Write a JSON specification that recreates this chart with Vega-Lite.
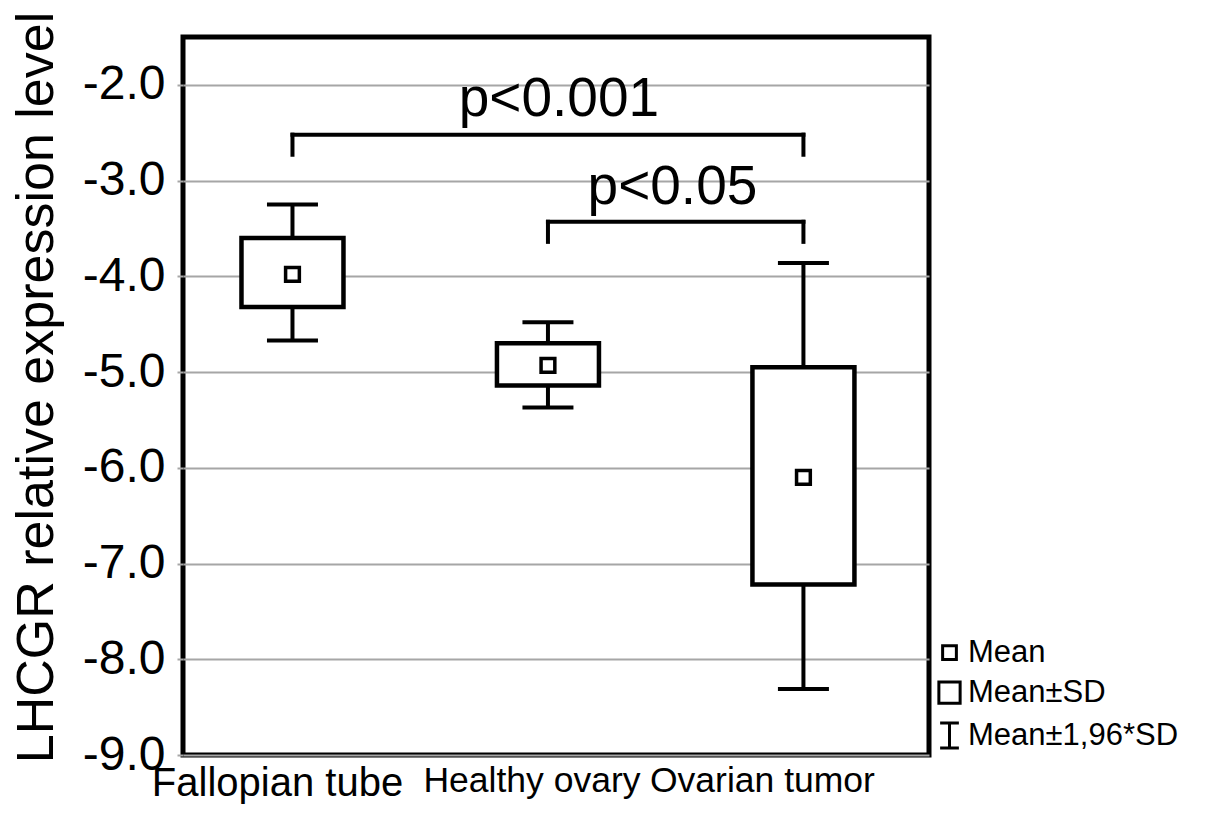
{
  "$schema": "https://vega.github.io/schema/vega-lite/v6.json",
  "autosize": "none",
  "padding": {"left": 183, "top": 37, "right": 276, "bottom": 69},
  "width": 746,
  "height": 718,
  "background": "white",
  "config": {
    "font": "Liberation Sans",
    "view": {"stroke": "black", "strokeWidth": 5},
    "axis": {"labelColor": "black", "titleColor": "black", "labelFont": "Liberation Sans", "titleFont": "Liberation Sans"}
  },
  "datasets": {
    "groups": [
      {"group": "Fallopian tube", "mean": -3.98, "sdLow": -4.32, "sdHigh": -3.60, "ciLow": -4.67, "ciHigh": -3.25, "stat": "Mean"},
      {"group": "Healthy ovary", "mean": -4.93, "sdLow": -5.14, "sdHigh": -4.70, "ciLow": -5.37, "ciHigh": -4.48, "stat": "Mean"},
      {"group": "Ovarian tumor", "mean": -6.10, "sdLow": -7.22, "sdHigh": -4.95, "ciLow": -8.31, "ciHigh": -3.86, "stat": "Mean"}
    ],
    "brackets": [
      {"label": "p<0.001", "from": "Fallopian tube", "to": "Ovarian tumor", "bar": -2.52, "leg": -2.73, "ty": -2.33},
      {"label": "p<0.05", "from": "Healthy ovary", "to": "Ovarian tumor", "bar": -3.43, "leg": -3.64, "ty": -3.24}
    ]
  },
  "encoding": {
    "x": {
      "field": "group",
      "type": "nominal",
      "sort": null,
      "scale": {"type": "band", "domain": ["Fallopian tube", "Healthy ovary", "Ovarian tumor"], "paddingInner": 0.5, "paddingOuter": 0.21, "align": 0.425},
      "axis": {
        "title": null,
        "domain": false,
        "ticks": false,
        "grid": false,
        "labelAngle": 0,
        "labelPadding": 8,
        "labelLimit": 0,
        "labelFontSize": {"condition": {"test": "datum.value == 'Fallopian tube'", "value": 40}, "value": 35.5},
        "labelOffset": {"condition": [{"test": "datum.value == 'Ovarian tumor'", "value": -41}, {"test": "datum.value == 'Healthy ovary'", "value": -16}], "value": -15},
        "labelBaseline": "top"
      }
    }
  },
  "layer": [
    {
      "data": {"name": "groups"},
      "mark": {"type": "rule", "stroke": "black", "strokeWidth": 4},
      "encoding": {
        "y": {
          "field": "ciLow",
          "type": "quantitative",
          "scale": {"domain": [-9, -1.5], "nice": false, "zero": false},
          "axis": {
            "title": "LHCGR relative expression level",
            "titleFontSize": 52,
            "titleFontWeight": "normal",
            "titleX": -131,
            "titleY": 350,
            "titleBaseline": "alphabetic",
            "titleAngle": 270,
            "titleLimit": 0,
            "values": [-9, -8, -7, -6, -5, -4, -3, -2],
            "labelExpr": "'-' + format(abs(datum.value), '.1f')",
            "labelFontSize": 48,
            "labelPadding": 12,
            "domain": false,
            "grid": true,
            "gridColor": "#a6a6a6",
            "gridWidth": 2,
            "gridOpacity": 1,
            "tickColor": "#a6a6a6",
            "tickWidth": 2,
            "tickSize": 6
          }
        },
        "y2": {"field": "ciHigh"}
      }
    },
    {
      "data": {"name": "groups"},
      "mark": {"type": "tick", "color": "black", "size": 51, "thickness": 4, "opacity": 1},
      "encoding": {"y": {"field": "ciHigh", "type": "quantitative"}}
    },
    {
      "data": {"name": "groups"},
      "mark": {"type": "tick", "color": "black", "size": 51, "thickness": 4, "opacity": 1},
      "encoding": {"y": {"field": "ciLow", "type": "quantitative"}}
    },
    {
      "data": {"name": "groups"},
      "mark": {"type": "bar", "width": 102, "fill": "white", "stroke": "black", "strokeWidth": 4.5},
      "encoding": {
        "y": {"field": "sdLow", "type": "quantitative"},
        "y2": {"field": "sdHigh"}
      }
    },
    {
      "data": {"name": "groups"},
      "mark": {"type": "point", "filled": false, "stroke": "black", "strokeWidth": 3.5, "size": 625, "opacity": 1},
      "encoding": {
        "y": {"field": "mean", "type": "quantitative"},
        "shape": {
          "field": "stat",
          "type": "nominal",
          "sort": null,
          "scale": {
            "domain": ["Mean", "Mean±SD", "Mean±1,96*SD"],
            "range": [
              "M-0.55,-0.55H0.55V0.55H-0.55Z",
              "M-0.85,-0.85H0.85V0.85H-0.85Z",
              "M-0.75,-1H0.75M0,-1V1M-0.75,1H0.75"
            ]
          },
          "legend": {
            "orient": "none",
            "legendX": 751,
            "legendY": 600,
            "title": null,
            "padding": 0,
            "labelFontSize": 31,
            "labelFont": "Liberation Sans",
            "labelColor": "black",
            "labelLimit": 0,
            "symbolSize": 625,
            "symbolStrokeWidth": 3,
            "symbolStrokeColor": "black",
            "symbolFillColor": "transparent",
            "labelOffset": 3,
            "rowPadding": 7
          }
        }
      }
    },
    {
      "data": {"name": "brackets"},
      "mark": {"type": "rule", "stroke": "black", "strokeWidth": 4, "strokeCap": "square"},
      "encoding": {
        "x": {"field": "from", "type": "nominal"},
        "x2": {"field": "to"},
        "y": {"field": "bar", "type": "quantitative"}
      }
    },
    {
      "data": {"name": "brackets"},
      "mark": {"type": "rule", "stroke": "black", "strokeWidth": 4, "strokeCap": "square"},
      "encoding": {
        "x": {"field": "from", "type": "nominal"},
        "y": {"field": "bar", "type": "quantitative"},
        "y2": {"field": "leg"}
      }
    },
    {
      "data": {"name": "brackets"},
      "mark": {"type": "rule", "stroke": "black", "strokeWidth": 4, "strokeCap": "square"},
      "encoding": {
        "x": {"field": "to", "type": "nominal"},
        "y": {"field": "bar", "type": "quantitative"},
        "y2": {"field": "leg"}
      }
    },
    {
      "data": {"name": "brackets"},
      "transform": [{"filter": "datum.label == 'p<0.001'"}],
      "mark": {"type": "text", "fontSize": 55, "color": "black", "align": "center", "baseline": "alphabetic", "dx": 11},
      "encoding": {
        "x": {"datum": "Healthy ovary"},
        "y": {"field": "ty", "type": "quantitative"},
        "text": {"field": "label"}
      }
    },
    {
      "data": {"name": "brackets"},
      "transform": [{"filter": "datum.label == 'p<0.05'"}],
      "mark": {"type": "text", "fontSize": 55, "color": "black", "align": "center", "baseline": "alphabetic", "dx": -131},
      "encoding": {
        "x": {"datum": "Ovarian tumor"},
        "y": {"field": "ty", "type": "quantitative"},
        "text": {"field": "label"}
      }
    }
  ]
}
